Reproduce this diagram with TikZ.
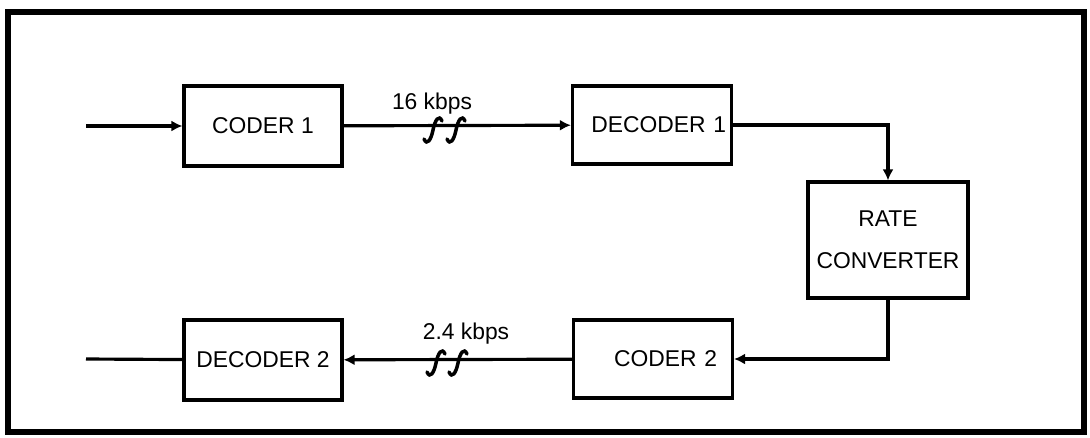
\documentclass[tikz,border=0pt]{standalone}
\usepackage{fontspec}
\setmainfont{Liberation Sans}
\usetikzlibrary{arrows.meta}

\tikzset{
block/.style={draw,line width=1.8pt,inner sep=0pt,font=\fontsize{13}{17}\selectfont},
flow/.style={line width=1.8pt,-{Latex[length=0.22cm,width=0.22cm]}},
wire/.style={line width=1.8pt},
squig/.style={line width=2pt,line cap=round},
rate/.style={font=\fontsize{13}{15}\selectfont}
}

\begin{document}
\begin{tikzpicture}[x=0.02cm,y=-0.02cm]

\useasboundingbox (0,0) rectangle (1090,437);

% frame
\draw[line width=3pt] (8,12) rectangle (1084,432);

% blocks
\node[block,minimum width=3.16cm,minimum height=1.6cm] (coder1) at (263,126) {CODER 1};
\node[block,minimum width=3.18cm,minimum height=1.56cm,text width=2.96cm,align=right] (decoder1) at (652,125) {DECODER 1};
\node[block,minimum width=3.2cm,minimum height=2.32cm,align=center] (conv) at (888,240) {RATE\\[7pt]CONVERTER};
\node[block,minimum width=3.18cm,minimum height=1.56cm,text width=2.56cm,align=right] (coder2) at (653,359) {CODER 2};
\node[block,minimum width=3.16cm,minimum height=1.6cm] (decoder2) at (263,360) {DECODER 2};

\coordinate (in) at (86,126);
\coordinate (out) at (86,359);

% connectors
\draw[flow] (in) -- (coder1);
\draw[flow] (coder1) -- (decoder1);
\draw[flow] (decoder1.east) -| (conv.north);
\draw[flow] (conv.south) |- (coder2.east);
\draw[flow] (coder2) -- (decoder2);
\draw[wire] (decoder2) -- (out);

% rates
\node[rate] (fast) at (432,104) {16 kbps};
\node[rate] (slow) at (466,334) {2.4 kbps};

\foreach \x/\y in {
433/130,456/130,
436/363,458/363
}
{
\draw[squig] (\x-9,\y+9) .. controls (\x-6,\y+16) and (\x-2,\y+10) .. (\x,\y)
  .. controls (\x+2,\y-10) and (\x+6,\y-16) .. (\x+9,\y-9);
}

\end{tikzpicture}
\end{document}
